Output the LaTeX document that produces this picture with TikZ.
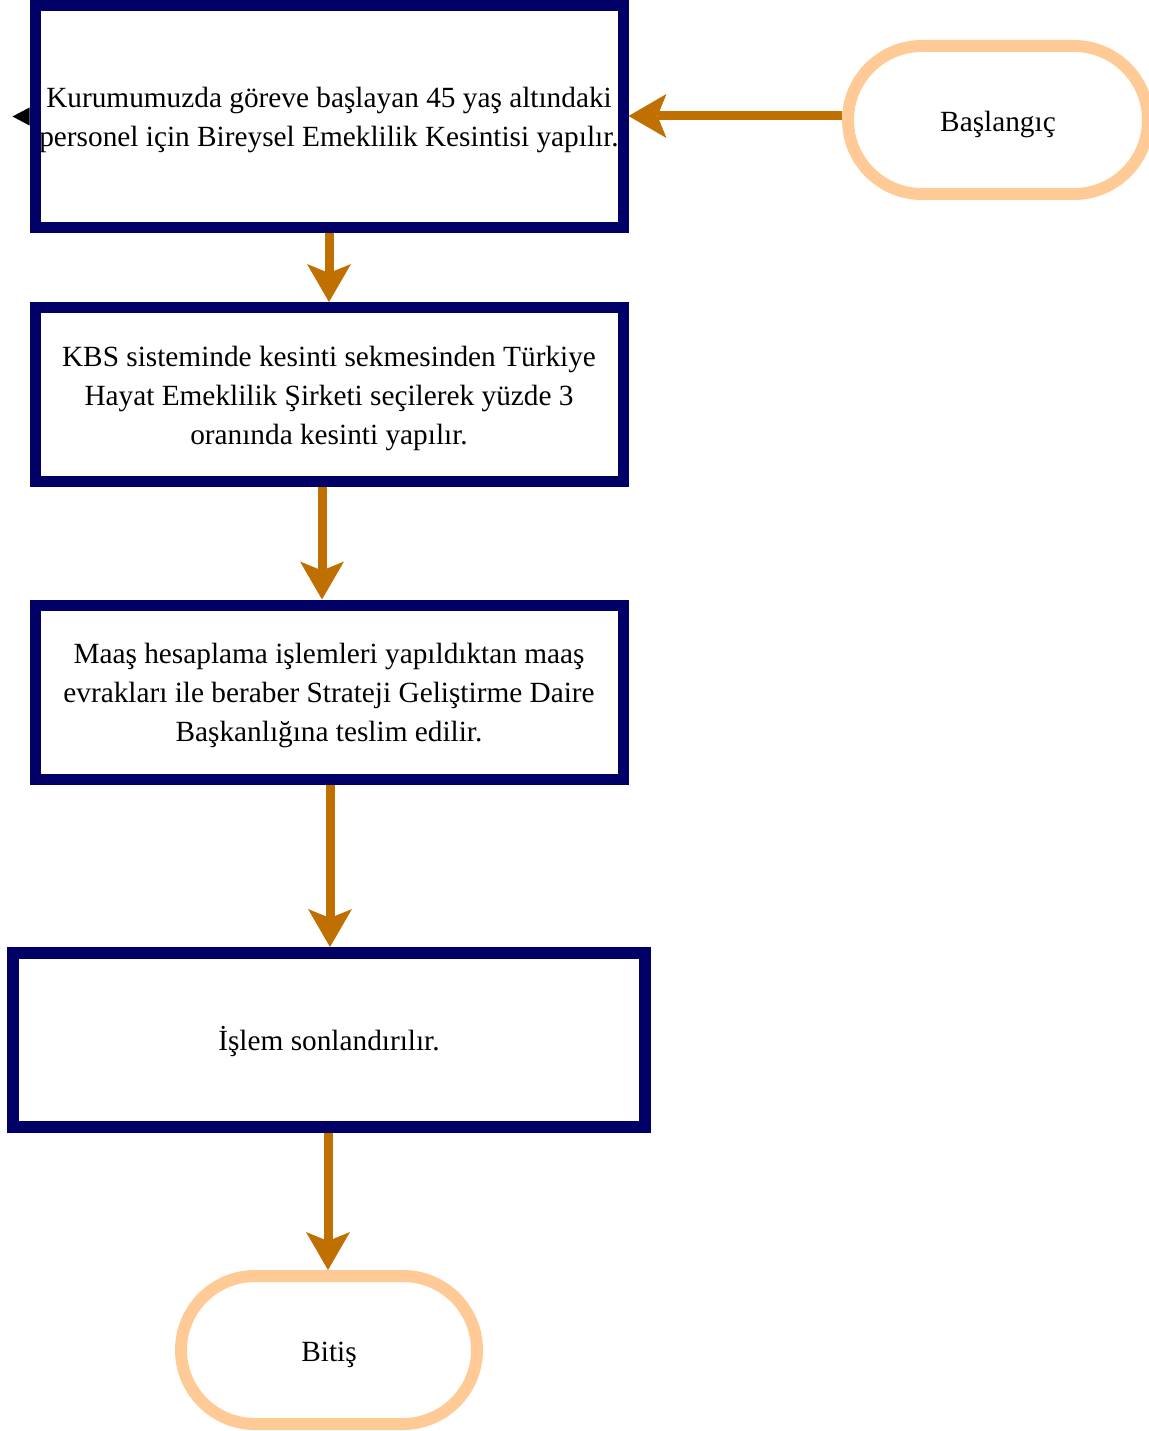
\documentclass[tikz,border=0pt]{standalone}
\usepackage{fontspec}
\setmainfont{Liberation Serif}
\usetikzlibrary{arrows.meta}
\definecolor{navy}{HTML}{000066}
\definecolor{arrc}{HTML}{C07000}
\definecolor{peach}{HTML}{FFCA96}
\newcommand\lbltxt[2][3pt]{\raisebox{-#1}[\height][\depth]{\begin{tabular}{@{}c@{}}#2\end{tabular}}}
\begin{document}
\begin{tikzpicture}[x=1pt,y=-1pt,
  txt/.style={font=\fontsize{29.3}{39}\selectfont},
  box/.style={txt, draw=navy, line width=11pt, fill=white, minimum width=588pt,
    minimum height=174pt, inner sep=2pt},
  term/.style={txt, draw=peach, line width=12pt, fill=white, rounded corners=74pt,
    minimum width=300pt, minimum height=148pt, inner sep=2pt},
  arr/.style={draw=arrc, line width=9pt,
    -{Stealth[length=38pt,width=44pt,inset=9pt,line width=0pt]}}]
\useasboundingbox (0,0) rectangle (1148,1431);
\node[box, minimum height=222pt] (b1) at (329,116.5)
  {\lbltxt{Kurumumuzda göreve başlayan 45 yaş altındaki\\personel için Bireysel Emeklilik Kesintisi yapılır.}};
\node[box] (b2) at (329,394.5)
  {\lbltxt{KBS sisteminde kesinti sekmesinden Türkiye\\Hayat Emeklilik Şirketi seçilerek yüzde 3\\oranında kesinti yapılır.}};
\node[box] (b3) at (329,692)
  {\lbltxt{Maaş hesaplama işlemleri yapıldıktan maaş\\evrakları ile beraber Strateji Geliştirme Daire\\Başkanlığına teslim edilir.}};
\node[box, line width=12pt, minimum width=632pt] (b4) at (329,1040) {\lbltxt{İşlem sonlandırılır.}};
\node[term] (start) at (998,120) {\lbltxt[4pt]{Başlangıç}};
\node[term, minimum width=296pt] (end) at (329,1350) {\lbltxt[4pt]{Bitiş}};
\draw[arr] ([yshift=4pt]start.west) -- ([yshift=4pt]start.west -| b1.east);
\draw[arr] (b1.south) -- (b2.north);
\draw[arr] ([xshift=-7pt]b2.south) -- ([xshift=-7pt]b3.north);
\draw[arr] ([xshift=1pt]b3.south) -- ([xshift=1pt]b4.north);
\draw[arr] ([xshift=-1pt]b4.south) -- ([xshift=-1pt]end.north);
\fill (b1.west) ++(0,-9) -- ++(-17,9) -- ++(17,9) -- cycle;
\end{tikzpicture}
\end{document}
